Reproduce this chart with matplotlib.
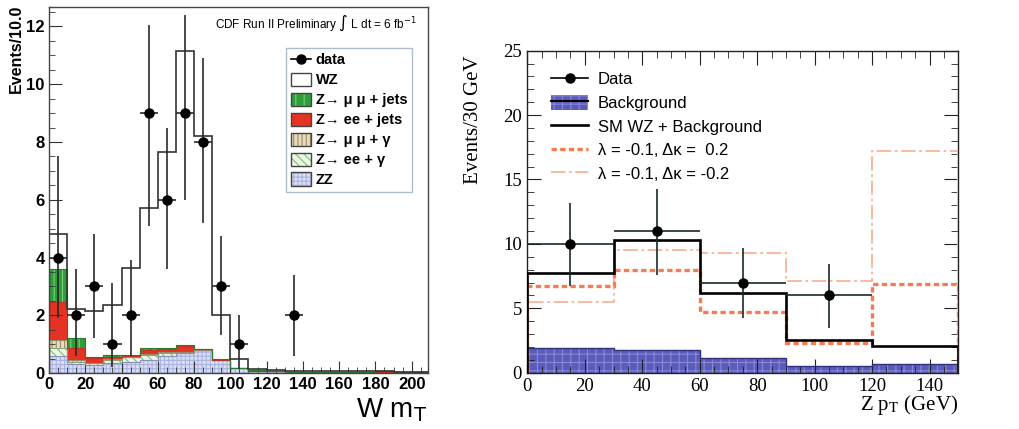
import numpy as np
import matplotlib
matplotlib.use("Agg")
import matplotlib.pyplot as plt
from matplotlib.patches import Patch
from matplotlib.lines import Line2D
from matplotlib.legend_handler import HandlerTuple
from matplotlib.ticker import MultipleLocator

plt.rcParams['hatch.linewidth'] = 0.8

# ---- Panel izquierdo: W mT (bins de 10) ----
mt_edges = np.arange(0, 220, 10)
zz = [0.59, 0.31, 0.28, 0.36, 0.37, 0.45, 0.59, 0.68, 0.80, 0.45, 0.16,
      0.08, 0.07, 0.05, 0.05, 0.04, 0.04, 0.04, 0.04, 0.03, 0.02]
ee_gamma = [0.26, 0.08, 0.05, 0.09, 0.18, 0.18, 0.12, 0.04, 0.0, 0.0, 0.0,
            0, 0, 0, 0, 0, 0, 0, 0, 0, 0]
mm_gamma = [0.29, 0.06, 0.03, 0.03, 0.02, 0.03, 0.03, 0.02, 0.01, 0.01, 0.0,
            0, 0, 0, 0, 0, 0, 0, 0, 0, 0]
ee_jets = [1.33, 0.40, 0.15, 0.08, 0.03, 0.14, 0.08, 0.18, 0.01, 0.0, 0.0,
           0, 0, 0, 0, 0, 0, 0, 0, 0, 0]
mm_jets = [1.13, 0.35, 0.05, 0.05, 0.03, 0.08, 0.06, 0.05, 0.02, 0.01, 0.01,
           0.02, 0.01, 0, 0, 0, 0, 0, 0.02, 0, 0]
wz = [1.20, 1.00, 1.59, 1.74, 3.02, 4.82, 6.77, 10.18, 7.36, 1.53, 0.33,
      0.05, 0.04, 0.03, 0.02, 0.03, 0.02, 0.02, 0.02, 0.01, 0.01]

mt_data = [4, 2, 3, 1, 2, 9, 6, 9, 8, 3, 1, 0, 0, 2, 0, 0, 0, 0, 0, 0, 0]
mt_lo = [1.9, 0.6, 1.2, 0.2, 0.6, 5.1, 3.6, 6.0, 5.2, 1.3, 0.15, 0, 0, 0.6, 0, 0, 0, 0, 0, 0, 0]
mt_hi = [7.5, 3.6, 4.8, 3.1, 3.9, 12.05, 8.5, 12.4, 10.9, 4.75, 2.0, 0, 0, 3.4, 0, 0, 0, 0, 0, 0, 0]

labels_left = ['data', 'WZ', 'Z\u2192 \u03bc \u03bc + jets', 'Z\u2192 ee + jets',
               'Z\u2192 \u03bc \u03bc + \u03b3', 'Z\u2192 ee + \u03b3', 'ZZ']

# ---- Panel derecho: Z pT (bins de 30) ----
pt_edges = [0, 30, 60, 90, 120, 150]
bkg = [1.89, 1.76, 1.11, 0.52, 0.67]
sm_wz = [7.71, 10.3, 6.16, 2.54, 2.07]
dk_pos = [6.73, 7.97, 4.74, 2.33, 6.88]
dk_neg = [5.51, 9.52, 9.27, 7.12, 17.24]
pt_data = [10, 11, 7, 6]
pt_lo = [6.73, 7.58, 4.22, 3.44]
pt_hi = [13.15, 14.3, 9.65, 8.41]
labels_right = ['Data', 'Background', 'SM WZ + Background',
                '\u03bb = -0.1, \u0394\u03ba =  0.2', '\u03bb = -0.1, \u0394\u03ba = -0.2']

sans = ['Liberation Sans', 'DejaVu Sans']
serif = ['Liberation Serif', 'DejaVu Serif']

fig = plt.figure(figsize=(10.2, 4.29), dpi=100)
ax1 = fig.add_axes([0.048, 0.1305, 0.3716, 0.8535])
ax2 = fig.add_axes([0.517, 0.131, 0.4225, 0.751])

# capas apiladas: relleno, rayado, color de linea
capas = [
    (zz, '#dcdcf2', '#a8b4e0', '++++', '#8890b8'),
    (ee_gamma, '#eef6e4', '#7cc07a', '\\\\\\\\', '#8aa880'),
    (mm_gamma, '#e8dcc0', '#a08860', '||||', '#9a8a70'),
    (ee_jets, '#e63222', '#e63222', None, '#c03020'),
    (mm_jets, '#2e9e3a', '#7ad07a', '||', '#2a7a30'),
    (wz, 'white', 'white', None, '#333333'),
]
base = np.zeros(len(zz))
handles = []
for vals, fc, hc, hatch, lc in capas:
    top = base + np.array(vals)
    ax1.stairs(top, mt_edges, baseline=base, fill=True, facecolor=fc, edgecolor='none', zorder=1)
    if hatch:
        ax1.stairs(top, mt_edges, baseline=base, fill=True, facecolor='none',
                   edgecolor=hc, hatch=hatch, linewidth=0, zorder=1.5)
    ax1.stairs(top, mt_edges, color=lc, lw=1.2 if lc == '#333333' else 0.8, zorder=2)
    h = [Patch(facecolor=fc, edgecolor='none')]
    if hatch:
        h.append(Patch(facecolor='none', edgecolor=hc, hatch=hatch, linewidth=0))
    h.append(Patch(facecolor='none', edgecolor='#444444', linewidth=1.0))
    handles.append(tuple(h))
    base = top

centers = (mt_edges[:-1] + mt_edges[1:]) / 2
d = np.array(mt_data, dtype=float)
m = d > 0
lo = np.array(mt_lo)[m]
hi = np.array(mt_hi)[m]
ax1.errorbar(centers[m], d[m], xerr=5, yerr=[d[m] - lo, hi - d[m]], fmt='o', color='black',
             ecolor='#2a2a2a', elinewidth=1.2, markersize=6.5, capsize=0, zorder=5)

leg_handles = [Line2D([], [], color='black', marker='o', markersize=6.5, lw=1.2)] + handles[::-1]
leg1 = ax1.legend(leg_handles, labels_left, loc='upper left', bbox_to_anchor=(0.625, 0.888),
                  borderaxespad=0,
                  handler_map={tuple: HandlerTuple(ndivide=1, pad=0)},
                  prop={'family': sans, 'weight': 'bold', 'size': 10.5},
                  handlelength=1.4, handleheight=1.0, labelspacing=0.37, borderpad=0.35,
                  handletextpad=0.3, fancybox=False, framealpha=1, edgecolor='#b0bccc')
leg1.get_frame().set_linewidth(1.0)

ax1.set_xlim(0, 209)
ax1.set_ylim(0, 12.68)
ax1.xaxis.set_major_locator(MultipleLocator(20))
ax1.xaxis.set_minor_locator(MultipleLocator(5))
ax1.yaxis.set_major_locator(MultipleLocator(2))
ax1.yaxis.set_minor_locator(MultipleLocator(0.5))
ax1.tick_params(which='both', direction='in', color='#333333')
ax1.tick_params(which='major', length=9, labelsize=12, pad=3)
ax1.tick_params(which='minor', length=4.5)
for lab in ax1.get_xticklabels() + ax1.get_yticklabels():
    lab.set_family(sans)
    lab.set_fontweight('bold')
for s in ax1.spines.values():
    s.set_color('#444444')
    s.set_linewidth(1.0)

ax1.text(0.97, 0.955, r'CDF Run II Preliminary $\int$ L dt = 6 fb$^{-1}$', transform=ax1.transAxes,
         ha='right', va='center', fontsize=8.5, family=sans, math_fontfamily='dejavusans')
fig.text(0.016, 0.99, 'Events/10.0', rotation=90, ha='center', va='top',
         fontsize=11.5, fontweight='bold', family=sans)
fig.text(0.419, 0.045, r'W m$_{\mathrm{T}}$', ha='right', va='center', fontsize=20,
         family=sans, math_fontfamily='dejavusans')

# ---- panel derecho ----
ax2.stairs(bkg, pt_edges, fill=True, facecolor='#5a5cbc', edgecolor='none', zorder=1)
ax2.stairs(bkg, pt_edges, fill=True, facecolor='none', edgecolor='#8c86d6', hatch='++',
           linewidth=0, zorder=1.5)
ax2.stairs(bkg, pt_edges, color='#30307a', lw=1.0, zorder=2)
ax2.stairs(dk_neg, pt_edges, color='#f6b496', lw=1.3, linestyle=(0, (8, 2, 1.5, 2)), zorder=3)
ax2.stairs(dk_pos, pt_edges, color='#f27d55', lw=2.4, linestyle=(0, (1.6, 1.0)), zorder=3)
ax2.stairs(sm_wz, pt_edges, color='black', lw=1.9, zorder=4)

pe = np.array(pt_edges, dtype=float)
pc = ((pe[:-1] + pe[1:]) / 2)[:len(pt_data)]
pd_ = np.array(pt_data, dtype=float)
ax2.errorbar(pc, pd_, xerr=15, yerr=[pd_ - np.array(pt_lo), np.array(pt_hi) - pd_], fmt='o',
             color='black', ecolor='#1a2a2a', elinewidth=1.2, markersize=6.5, capsize=0, zorder=5)

h_right = [Line2D([], [], color='black', marker='o', markersize=6.5, lw=1.2),
           (Patch(facecolor='#5a5cbc', edgecolor='none'),
            Patch(facecolor='none', edgecolor='#8c86d6', hatch='++', linewidth=0),
            Line2D([], [], color='black', lw=1.5)),
           Line2D([], [], color='black', lw=1.9),
           Line2D([], [], color='#f27d55', lw=2.4, linestyle=(0, (1.6, 1.0))),
           Line2D([], [], color='#f6b496', lw=1.3, linestyle=(0, (8, 2, 1.5, 2)))]
ax2.legend(h_right, labels_right, loc='upper left', bbox_to_anchor=(0.04, 0.957),
           borderaxespad=0,
           handler_map={tuple: HandlerTuple(ndivide=1, pad=0)},
           prop={'family': sans, 'size': 12}, frameon=False,
           handlelength=2.2, handleheight=1.0, labelspacing=0.45, handletextpad=0.6)

ax2.set_xlim(0, 150)
ax2.set_ylim(0, 25)
ax2.xaxis.set_major_locator(MultipleLocator(20))
ax2.xaxis.set_minor_locator(MultipleLocator(5))
ax2.yaxis.set_major_locator(MultipleLocator(5))
ax2.yaxis.set_minor_locator(MultipleLocator(1))
ax2.tick_params(which='both', direction='in', top=True, right=True, color='#222222')
ax2.tick_params(which='major', length=10, labelsize=13.5, pad=4)
ax2.tick_params(which='minor', length=5)
for lab in ax2.get_xticklabels() + ax2.get_yticklabels():
    lab.set_family(serif)
for s in ax2.spines.values():
    s.set_color('#222222')
    s.set_linewidth(1.0)

fig.text(0.464, 0.87, 'Events/30 GeV', rotation=90, ha='center', va='top', fontsize=15, family=serif)
fig.text(0.939, 0.055, r'Z p$_{\mathrm{T}}$ (GeV)', ha='right', va='center', fontsize=15,
         family=serif, math_fontfamily='stix')

fig.savefig('out.png', dpi=100)
